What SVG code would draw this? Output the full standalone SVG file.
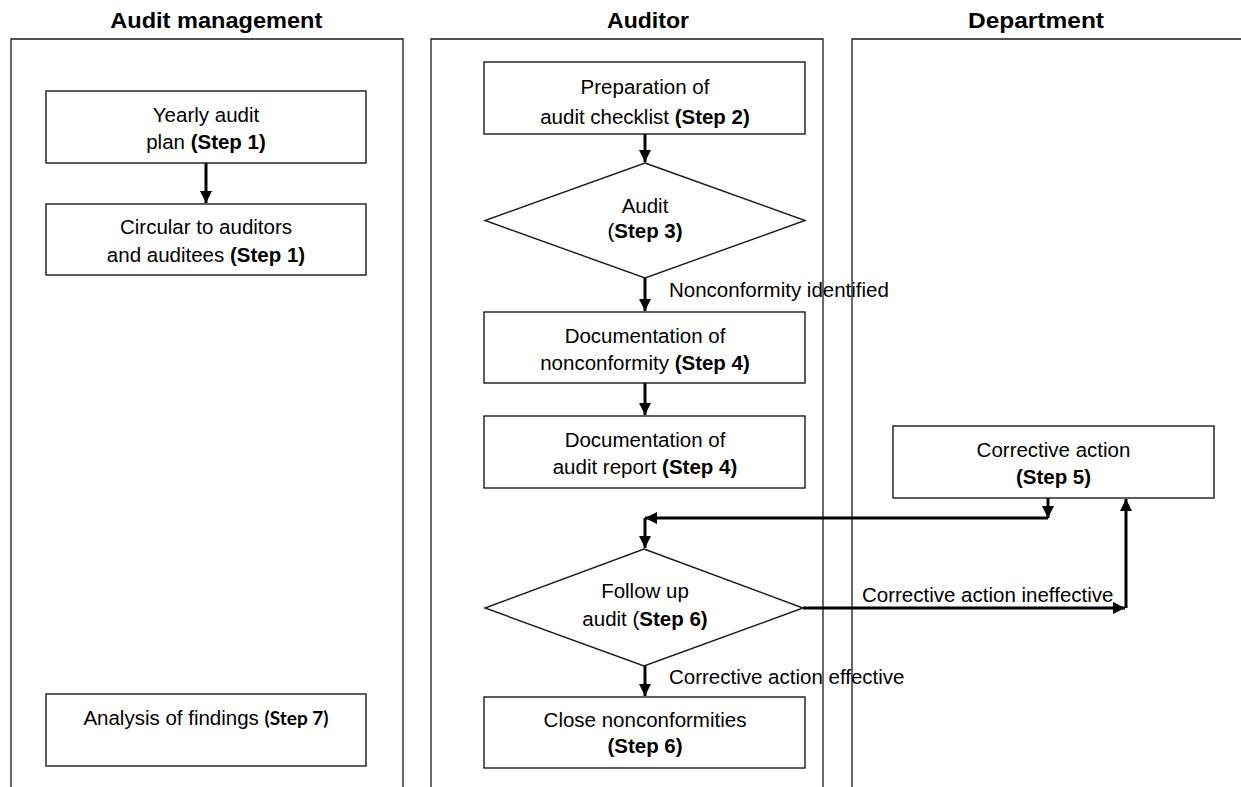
<svg xmlns="http://www.w3.org/2000/svg" width="1241" height="787" viewBox="0 0 1241 787">
<style>
.lane{fill:none;stroke:#1a1a1a;stroke-width:1.3}
.box{fill:#fff;stroke:#1a1a1a;stroke-width:1.4}
.hdr{font-family:"Liberation Sans",Arial,sans-serif;font-weight:bold;font-size:21.5px;fill:#000;text-anchor:middle}
.t{font-family:"Liberation Sans",Arial,sans-serif;font-size:20.5px;fill:#000;text-anchor:middle}
.lbl{font-family:"Liberation Sans",Arial,sans-serif;font-size:20.5px;fill:#000}
.b{font-weight:bold}
.cal{font-family:Lato,"Open Sans",sans-serif;font-weight:bold;font-size:19px}
.con{fill:none;stroke:#000;stroke-width:3}
</style>
<defs>
<marker id="ah" markerUnits="userSpaceOnUse" markerWidth="13" markerHeight="13" refX="12" refY="6.5" orient="auto">
<path d="M0,0.5 L12,6.5 L0,12.5 z" fill="#000"/>
</marker>
</defs>
<rect width="1241" height="787" fill="#fff"/>

<g id="lanes">
<path class="lane" d="M11,787 V39 H403 V787"/>
<path class="lane" d="M431,787 V39 H823 V787"/>
<path class="lane" d="M852,787 V39 H1241"/>
<text class="hdr" x="216.3" y="28" textLength="212" lengthAdjust="spacingAndGlyphs">Audit management</text>
<text class="hdr" x="648" y="28" textLength="82" lengthAdjust="spacingAndGlyphs">Auditor</text>
<text class="hdr" x="1036" y="28" textLength="136" lengthAdjust="spacingAndGlyphs">Department</text>
</g>

<g id="connectors">
<path class="con" d="M206,163 V203" marker-end="url(#ah)"/>
<path class="con" d="M645,134 V162" marker-end="url(#ah)"/>
<path class="con" d="M645,278 V311" marker-end="url(#ah)"/>
<path class="con" d="M645,383 V415" marker-end="url(#ah)"/>
<path class="con" d="M1048,498 V518" marker-end="url(#ah)"/>
<path class="con" d="M1048,518 H645" marker-end="url(#ah)"/>
<path class="con" d="M645,518 V548" marker-end="url(#ah)"/>
<path class="con" d="M803,608 H1125" marker-end="url(#ah)"/>
<path class="con" d="M1126,608 V499" marker-end="url(#ah)"/>
<path class="con" d="M645,666 V696" marker-end="url(#ah)"/>
<text class="lbl" x="669" y="297">Nonconformity identified</text>
<text class="lbl" x="862" y="602">Corrective action ineffective</text>
<text class="lbl" x="669" y="684">Corrective action effective</text>
</g>

<g id="n1">
<rect class="box" x="46" y="91" width="320" height="72"/>
<text class="t" x="206" y="122">Yearly audit</text>
<text class="t" x="206" y="149">plan <tspan class="b">(Step 1)</tspan></text>
</g>
<g id="n2">
<rect class="box" x="46" y="204" width="320" height="71"/>
<text class="t" x="206" y="234">Circular to auditors</text>
<text class="t" x="206" y="262">and auditees <tspan class="b">(Step 1)</tspan></text>
</g>
<g id="n3">
<rect class="box" x="46" y="694" width="320" height="72"/>
<text class="t" x="206" y="725">Analysis of findings <tspan class="cal">(Step 7)</tspan></text>
</g>
<g id="n4">
<rect class="box" x="484" y="62" width="321" height="72"/>
<text class="t" x="645" y="94">Preparation of</text>
<text class="t" x="645" y="124">audit checklist <tspan class="b">(Step 2)</tspan></text>
</g>
<g id="n5">
<polygon class="box" points="645,163 805,220.5 645,278 485,220.5"/>
<text class="t" x="645" y="213">Audit</text>
<text class="t" x="645" y="238">(<tspan class="b">Step 3)</tspan></text>
</g>
<g id="n6">
<rect class="box" x="484" y="312" width="321" height="71"/>
<text class="t" x="645" y="343">Documentation of</text>
<text class="t" x="645" y="370">nonconformity <tspan class="b">(Step 4)</tspan></text>
</g>
<g id="n7">
<rect class="box" x="484" y="416" width="321" height="72"/>
<text class="t" x="645" y="447">Documentation of</text>
<text class="t" x="645" y="474">audit report <tspan class="b">(Step 4)</tspan></text>
</g>
<g id="n8">
<rect class="box" x="893" y="426" width="321" height="72"/>
<text class="t" x="1053.5" y="457">Corrective action</text>
<text class="t" x="1053.5" y="484"><tspan class="b">(Step 5)</tspan></text>
</g>
<g id="n9">
<polygon class="box" points="644,549 803,608 644,666 485,608"/>
<text class="t" x="645" y="598">Follow up</text>
<text class="t" x="645" y="626">audit (<tspan class="b">Step 6)</tspan></text>
</g>
<g id="n10">
<rect class="box" x="484" y="697" width="321" height="71"/>
<text class="t" x="645" y="727">Close nonconformities</text>
<text class="t" x="645" y="753"><tspan class="b">(Step 6)</tspan></text>
</g>
</svg>
